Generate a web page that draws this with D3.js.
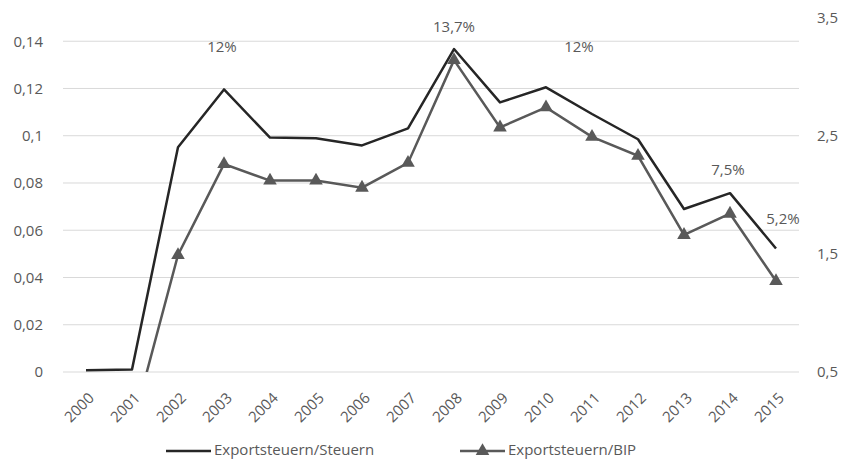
<!DOCTYPE html>
<html lang="de">
<head>
<meta charset="UTF-8">
<title>Exportsteuern</title>
<script src="https://d3js.org/d3.v7.min.js"></script>
<style>
    body { margin: 0; background: #fff; }
    svg text { font-family: "Open Sans", sans-serif; fill: #595959; }
</style>
</head>
<body>
<div id="chart"></div>
<script>
// Daten
const years = ["2000","2001","2002","2003","2004","2005","2006","2007","2008","2009","2010","2011","2012","2013","2014","2015"];
const steuernShare = [0.0007, 0.0011, 0.0951, 0.1196, 0.0992, 0.0989, 0.0959, 0.1031, 0.1367, 0.1141, 0.1205, 0.1092, 0.0985, 0.0690, 0.0757, 0.0523];
const bipShare = [0.02, 0.03, 1.49, 2.26, 2.12, 2.12, 2.06, 2.27, 3.14, 2.57, 2.74, 2.49, 2.33, 1.66, 1.84, 1.27];
const leftTicks = [0, 0.02, 0.04, 0.06, 0.08, 0.1, 0.12, 0.14];
const rightTicks = [0.5, 1.5, 2.5, 3.5];
const labels = [
    { year: "2003", text: "12%", dx: -2, dy: -41 },
    { year: "2008", text: "13,7%", dx: 0, dy: -21 },
    { year: "2010", text: "12%", dx: 33, dy: -39 },
    { year: "2014", text: "7,5%", dx: -2, dy: -22 },
    { year: "2015", text: "5,2%", dx: 7, dy: -28 }
];
const seriesNames = ["Exportsteuern/Steuern", "Exportsteuern/BIP"];

const width = 848, height = 461;
const plotLeft = 63, plotRight = 799, plotTop = 17.6, plotBottom = 372;

const svg = d3.select("#chart").append("svg")
    .attr("width", width)
    .attr("height", height);

const x = d3.scaleBand().domain(years).range([plotLeft, plotRight]);
const xc = d => x(d) + x.bandwidth() / 2;
const yL = d3.scaleLinear().domain([0, 0.15]).range([plotBottom, plotTop]);
const yR = d3.scaleLinear().domain([0.5, 3.5]).range([plotBottom, plotTop]);

const fmt = v => String(v).replace(".", ",");

// Gitterlinien
svg.append("g")
    .selectAll("line")
    .data(leftTicks)
    .enter()
    .append("line")
    .attr("x1", plotLeft).attr("x2", plotRight)
    .attr("y1", d => yL(d)).attr("y2", d => yL(d))
    .attr("stroke", "#d9d9d9")
    .attr("stroke-width", 1);

// linke Achse
const axL = svg.append("g")
    .attr("transform", `translate(${plotLeft},0)`)
    .call(d3.axisLeft(yL).tickValues(leftTicks).tickFormat(fmt).tickSize(0).tickPadding(20));
axL.select(".domain").remove();
axL.selectAll("text").attr("font-size", 15).style("fill", "#595959").style("font-family", "Open Sans, sans-serif");

// rechte Achse
const axR = svg.append("g")
    .attr("transform", `translate(${plotRight},0)`)
    .call(d3.axisRight(yR).tickValues(rightTicks).tickFormat(fmt).tickSize(0).tickPadding(18));
axR.select(".domain").remove();
axR.selectAll("text").attr("font-size", 15).style("fill", "#595959").style("font-family", "Open Sans, sans-serif");

// x-Achse
const axX = svg.append("g")
    .attr("transform", `translate(0,${plotBottom})`)
    .call(d3.axisBottom(x).tickSize(0));
axX.select(".domain").remove();
axX.selectAll("text")
    .attr("font-size", 15)
    .style("fill", "#595959")
    .style("font-family", "Open Sans, sans-serif")
    .attr("text-anchor", "end")
    .attr("y", 0)
    .attr("dy", 0)
    .attr("transform", "translate(9,27) rotate(-45)");

// Clip fuer Plotbereich
svg.append("clipPath").attr("id", "plot")
    .append("rect")
    .attr("x", plotLeft).attr("y", plotTop)
    .attr("width", plotRight - plotLeft).attr("height", plotBottom - plotTop);

const plot = svg.append("g").attr("clip-path", "url(#plot)");

// Exportsteuern/BIP (rechte Achse)
plot.append("path")
    .datum(bipShare)
    .attr("fill", "none")
    .attr("stroke", "#595959")
    .attr("stroke-width", 2.5)
    .attr("d", d3.line().x((d, i) => xc(years[i])).y(d => yR(d)));

const tri = d3.symbol().type(d3.symbolTriangle).size(80);
plot.selectAll(".tri")
    .data(bipShare)
    .enter()
    .append("path")
    .attr("class", "tri")
    .attr("d", tri)
    .attr("fill", "#595959")
    .attr("transform", (d, i) => `translate(${xc(years[i])},${yR(d)})`);

// Exportsteuern/Steuern (linke Achse)
plot.append("path")
    .datum(steuernShare)
    .attr("fill", "none")
    .attr("stroke", "#262626")
    .attr("stroke-width", 2.5)
    .attr("stroke-linejoin", "round")
    .attr("d", d3.line().x((d, i) => xc(years[i])).y(d => yL(d)));

// Beschriftungen
svg.append("g")
    .selectAll("text")
    .data(labels)
    .enter()
    .append("text")
    .attr("x", d => xc(d.year) + d.dx)
    .attr("y", d => yL(steuernShare[years.indexOf(d.year)]) + d.dy)
    .attr("text-anchor", "middle")
    .attr("dominant-baseline", "middle")
    .attr("font-size", 15)
    .text(d => d.text);

// Legende
const legend = svg.append("g").attr("transform", "translate(0,451)");
legend.append("line")
    .attr("x1", 166).attr("x2", 211).attr("y1", 0).attr("y2", 0)
    .attr("stroke", "#262626").attr("stroke-width", 2.5);
legend.append("text")
    .attr("x", 214).attr("y", 0)
    .attr("dominant-baseline", "middle")
    .attr("font-size", 15)
    .text(seriesNames[0]);
legend.append("line")
    .attr("x1", 460).attr("x2", 505).attr("y1", 0).attr("y2", 0)
    .attr("stroke", "#595959").attr("stroke-width", 2.5);
legend.append("path")
    .attr("d", tri)
    .attr("fill", "#595959")
    .attr("transform", "translate(482.5,0)");
legend.append("text")
    .attr("x", 508).attr("y", 0)
    .attr("dominant-baseline", "middle")
    .attr("font-size", 15)
    .text(seriesNames[1]);
</script>
</body>
</html>
